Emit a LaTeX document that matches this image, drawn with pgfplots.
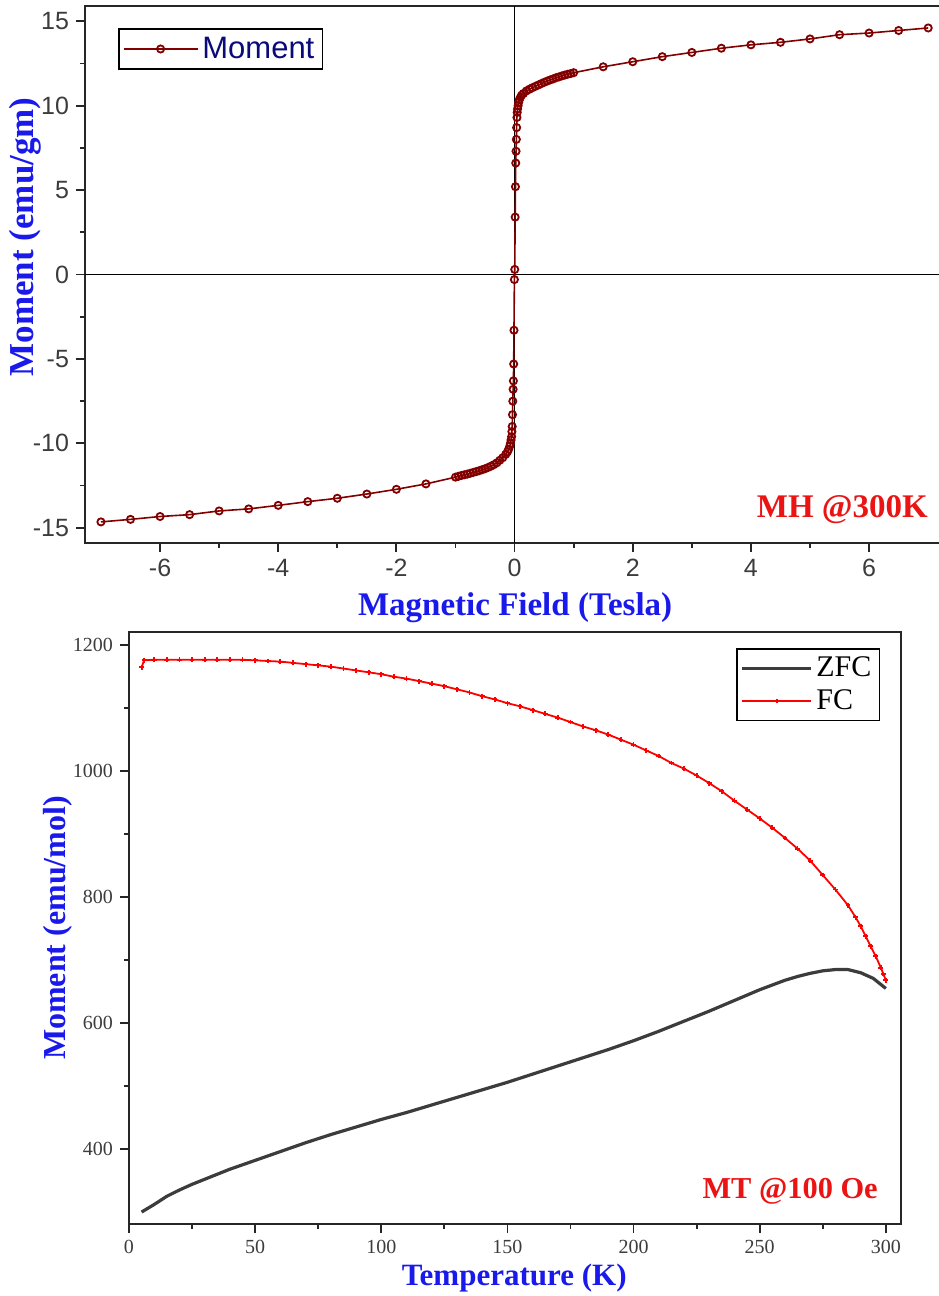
\documentclass[border=0pt]{standalone}
\usepackage{pgfplots}
\pgfplotsset{compat=1.18}
\usepackage{pgfplotstable}
\usepackage{fontspec}
\setmainfont{Liberation Serif}
\newfontfamily\arialfont{Liberation Sans}
\definecolor{lblue}{RGB}{25,25,235}
\definecolor{dred}{RGB}{130,0,0}
\definecolor{navyt}{RGB}{10,10,120}
\definecolor{ann}{RGB}{235,20,20}
\definecolor{zfc}{RGB}{60,60,60}
\definecolor{tickc}{RGB}{60,60,60}

\pgfplotstableread{
H M
-7.0 -14.65
-6.5 -14.5
-6.0 -14.33
-5.5 -14.22
-5.0 -14.0
-4.5 -13.88
-4.0 -13.67
-3.5 -13.45
-3.0 -13.25
-2.5 -13.0
-2.0 -12.72
-1.5 -12.4
-1.0 -12.0
-0.95 -11.95
-0.9 -11.9
-0.85 -11.86
-0.8 -11.82
-0.75 -11.77
-0.7 -11.72
-0.65 -11.67
-0.6 -11.62
-0.55 -11.56
-0.5 -11.5
-0.45 -11.43
-0.4 -11.35
-0.35 -11.26
-0.3 -11.15
-0.25 -11.0
-0.2 -10.85
-0.15 -10.65
-0.12 -10.5
-0.1 -10.35
-0.08 -10.15
-0.07 -10.0
-0.06 -9.8
-0.05 -9.6
-0.045 -9.3
-0.04 -9.0
-0.035 -8.3
-0.03 -7.5
-0.025 -6.8
-0.02 -6.3
-0.015 -5.3
-0.01 -3.3
-0.003 -0.3
0.003 0.3
0.01 3.4
0.015 5.2
0.02 6.6
0.025 7.3
0.03 8.0
0.035 8.7
0.04 9.3
0.045 9.6
0.05 9.8
0.06 10.0
0.07 10.2
0.08 10.35
0.1 10.5
0.12 10.62
0.15 10.72
0.2 10.87
0.25 10.97
0.3 11.06
0.35 11.14
0.4 11.22
0.45 11.3
0.5 11.38
0.55 11.45
0.6 11.52
0.65 11.58
0.7 11.65
0.75 11.7
0.8 11.76
0.85 11.81
0.9 11.86
0.95 11.9
1.0 11.95
1.5 12.3
2.0 12.6
2.5 12.9
3.0 13.15
3.5 13.4
4.0 13.6
4.5 13.75
5.0 13.95
5.5 14.2
6.0 14.3
6.5 14.45
7.0 14.6
}\mhdata

\pgfplotstableread{
T M
5 300
10 312
15 325
20 335
25 344
30 352
40 368
50 382
60 396
70 410
80 423
90 435
100 447
110 458
120 470
130 482
140 494
150 506
160 519
170 532
180 545
190 558
200 572
210 587
220 603
230 619
240 636
250 653
260 668
265 674
270 679
275 683
280 685
285 685
290 680
295 671
300 655
}\zfcdata

\pgfplotstableread{
T M
5 1165
6 1176
10 1177
15 1177
20 1177
25 1177
30 1177
35 1177
40 1177
45 1177
50 1176
55 1175
60 1174
65 1172
70 1170
75 1168
80 1166
85 1163
90 1160
95 1157
100 1154
105 1150
110 1147
115 1143
120 1139
125 1135
130 1130
135 1125
140 1119
145 1114
150 1108
155 1103
160 1097
165 1091
170 1085
175 1078
180 1071
185 1065
190 1058
195 1050
200 1042
205 1033
210 1024
215 1013
220 1004
225 993
230 981
235 968
240 953
245 939
250 925
255 910
260 894
265 877
270 858
275 835
280 812
285 787
288 768
290 754
292 738
294 722
296 706
298 688
299 678
300 668
}\fcdata

\pgfplotsset{
  originstyle/.style={
    scale only axis,
    axis line style={line width=1pt, black!85},
    tick align=outside,
    xtick pos=left, ytick pos=left,
    major tick length=4.5pt, minor tick length=2.5pt,
    every tick/.style={line width=0.9pt, black!85},
    minor x tick num=1, minor y tick num=1,
    /pgf/number format/assume math mode=true,
    /pgf/number format/1000 sep={},
    clip=false,
  }
}

\begin{document}
\begin{tikzpicture}
\useasboundingbox (0,0) rectangle (469pt,-648pt);

% ---------- MH panel ----------
\begin{axis}[originstyle,
  anchor=north west, at={(42.5pt,-3pt)},
  width=427.5pt, height=268.5pt,
  xmin=-7.27, xmax=7.2, ymin=-15.9, ymax=15.9,
  xtick={-6,-4,-2,0,2,4,6}, ytick={-15,-10,-5,0,5,10,15},
  ticklabel style={font=\arialfont\fontsize{12.5}{14}\selectfont, text=tickc},
  xlabel={Magnetic Field (Tesla)},
  ylabel={Moment (emu/gm)},
  xlabel style={at={(axis description cs:0.503,-0.080)}, anchor=north,
    font=\bfseries\fontsize{16.5}{18}\selectfont, text=lblue},
  ylabel style={at={(axis description cs:-0.070,0.57)}, anchor=center, rotate=0,
    font=\bfseries\fontsize{17.5}{19}\selectfont, text=lblue},
  legend style={at={(axis description cs:0.0386,0.959)}, anchor=north west,
    draw=black, line width=0.8pt, font=\arialfont\fontsize{15.5}{17}\selectfont,
    text=navyt, inner sep=2pt},
  legend cell align=left,
  legend image code/.code={\draw[mark repeat=2, mark phase=2]
    plot coordinates {(0cm,0cm) (0.65cm,0cm) (1.3cm,0cm)};},
]
\draw[black, line width=0.7pt] (axis cs:-7.27,0) -- (axis cs:7.2,0);
\draw[black, line width=0.7pt] (axis cs:0,-15.9) -- (axis cs:0,15.9);
\addplot[dred, line width=0.8pt, mark=o, mark size=1.8pt,
  mark options={line width=0.9pt}] table[x=H, y=M] {\mhdata};
\addlegendentry{Moment}
\node[anchor=south east, font=\bfseries\fontsize{16.5}{18}\selectfont, text=ann]
  at (axis description cs:0.994,0.022) {MH @300K};
\end{axis}

% ---------- MT panel ----------
\begin{axis}[originstyle,
  anchor=north west, at={(64.5pt,-316pt)},
  width=386pt, height=296pt,
  xmin=0, xmax=306, ymin=281, ymax=1221,
  xtick={0,50,100,150,200,250,300}, ytick={400,600,800,1000,1200},
  ticklabel style={font=\fontsize{10}{12}\selectfont, text=tickc},
  xlabel={Temperature (K)},
  ylabel={Moment (emu/mol)},
  xlabel style={at={(axis description cs:0.499,-0.056)}, anchor=north,
    font=\bfseries\fontsize{15.5}{17}\selectfont, text=lblue},
  ylabel style={at={(axis description cs:-0.092,0.50)}, anchor=center, rotate=0,
    font=\bfseries\fontsize{16}{18}\selectfont, text=lblue},
  legend style={at={(axis description cs:0.973,0.973)}, anchor=north east,
    draw=black, line width=0.8pt, font=\fontsize{15}{17}\selectfont,
    text=black, inner sep=2pt, row sep=1pt},
  legend cell align=left,
  legend image code/.code={\draw[mark repeat=2, mark phase=2]
    plot coordinates {(0cm,0cm) (0.6cm,0cm) (1.2cm,0cm)};},
]
\addplot[zfc, line width=1.6pt, no markers] table[x=T, y=M] {\zfcdata};
\addlegendentry{ZFC}
\addplot[red, line width=0.9pt, mark=+, mark size=1.2pt] table[x=T, y=M] {\fcdata};
\addlegendentry{FC}
\node[anchor=south east, font=\bfseries\fontsize{15.2}{17}\selectfont, text=ann]
  at (axis description cs:0.979,0.022) {MT @100 Oe};
\end{axis}
\end{tikzpicture}
\end{document}
